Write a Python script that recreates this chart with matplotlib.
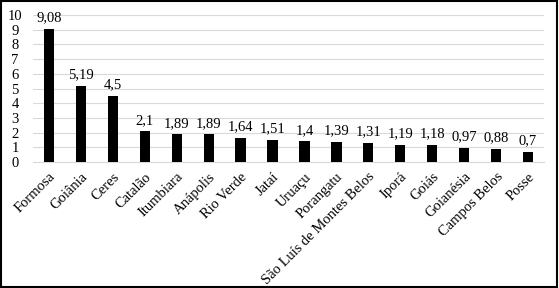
import matplotlib.pyplot as plt
from matplotlib.patches import Rectangle

cities = ["Formosa", "Goiânia", "Ceres", "Catalão", "Itumbiara", "Anápolis",
          "Rio Verde", "Jataí", "Uruaçu", "Porangatu", "São Luís de Montes Belos",
          "Iporá", "Goiás", "Goianésia", "Campos Belos", "Posse"]
values = [9.08, 5.19, 4.5, 2.1, 1.89, 1.89, 1.64, 1.51, 1.4, 1.39, 1.31,
          1.19, 1.18, 0.97, 0.88, 0.7]
labels = ["9,08", "5,19", "4,5", "2,1", "1,89", "1,89", "1,64", "1,51", "1,4",
          "1,39", "1,31", "1,19", "1,18", "0,97", "0,88", "0,7"]

plt.rcParams['font.family'] = ['Liberation Serif', 'DejaVu Serif']

fig = plt.figure(figsize=(5.59, 2.88), dpi=100)
ax = fig.add_axes([33 / 559, 1 - 162 / 288, 511 / 559, 147 / 288])

x = range(len(cities))
bars = ax.bar(x, values, width=0.32, color='black', zorder=3)
for xi, v, lab in zip(x, values, labels):
    ax.text(xi, v + 0.3, lab, ha='center', va='bottom', fontsize=10.5)

ax.set_xlim(-0.5, len(cities) - 0.5)
ax.set_ylim(0, 10)
ax.set_yticks(range(0, 11))
ax.yaxis.grid(True, color='#d9d9d9', linewidth=0.8, zorder=0)
for s in ['top', 'right', 'left']:
    ax.spines[s].set_visible(False)
ax.spines['bottom'].set_color('#d9d9d9')
ax.tick_params(axis='both', length=0, labelsize=10.5)
ax.tick_params(axis='y', pad=13)
ax.tick_params(axis='x', pad=6)
for t in ax.get_yticklabels():
    t.set_horizontalalignment('center')
ax.set_xticks(list(x))
ax.set_xticklabels(cities, rotation=45, ha='right', rotation_mode='anchor')

fig.patches.append(Rectangle((0.002, 0.003), 0.995, 0.993, transform=fig.transFigure,
                             fill=False, edgecolor='black', linewidth=1.5))

fig.savefig('out.png', dpi=100)
